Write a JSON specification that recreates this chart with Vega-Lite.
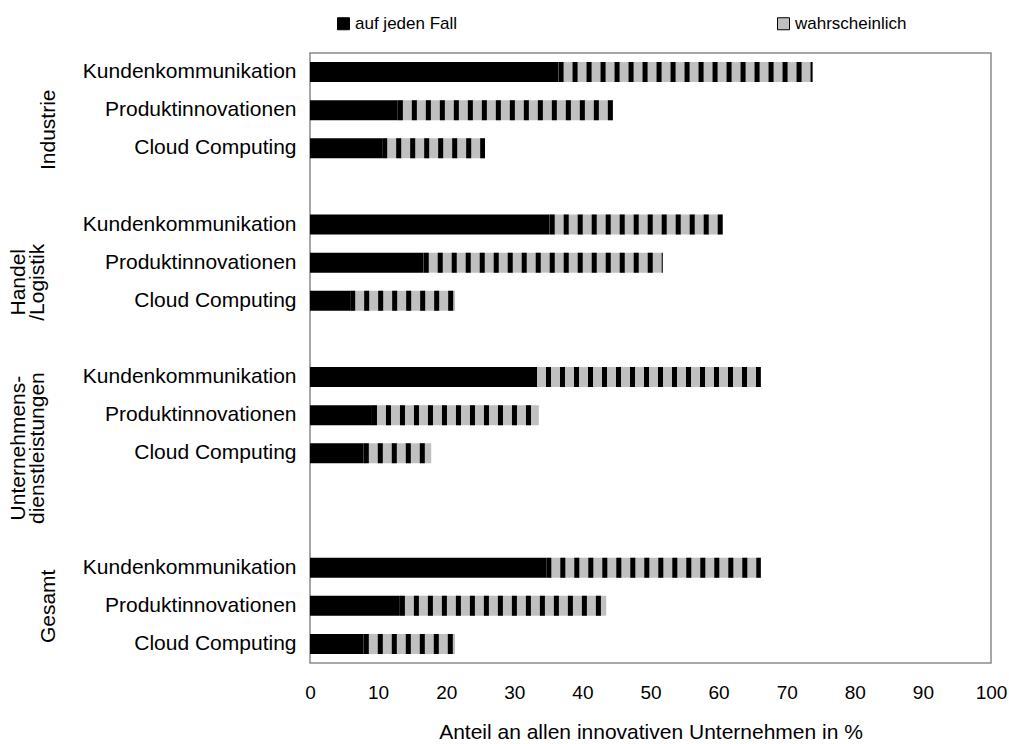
{
  "$schema": "https://vega.github.io/schema/vega-lite/v6.json",
  "width": 681,
  "height": 610,
  "autosize": {"type": "none"},
  "padding": {"left": 310, "top": 53, "right": 18, "bottom": 81},
  "background": "white",
  "config": {
    "font": "Liberation Sans",
    "view": {"stroke": "#8a8a8a", "strokeWidth": 1.5},
    "axis": {"grid": false, "labelColor": "#000000", "titleColor": "#000000", "labelFont": "Liberation Sans", "titleFont": "Liberation Sans", "titleFontWeight": "normal", "labelLimit": 0},
    "legend": {"labelFont": "Liberation Sans", "labelColor": "#000000", "labelLimit": 0}
  },
  "datasets": {
    "bars": [
      {"slot": 1, "group": "Industrie", "cat": "Kundenkommunikation", "sure": 36.5, "total": 73.8},
      {"slot": 2, "group": "Industrie", "cat": "Produktinnovationen", "sure": 12.9, "total": 44.5},
      {"slot": 3, "group": "Industrie", "cat": "Cloud Computing", "sure": 10.6, "total": 25.7},
      {"slot": 5, "group": "Handel /Logistik", "cat": "Kundenkommunikation", "sure": 35.2, "total": 60.6},
      {"slot": 6, "group": "Handel /Logistik", "cat": "Produktinnovationen", "sure": 16.7, "total": 51.8},
      {"slot": 7, "group": "Handel /Logistik", "cat": "Cloud Computing", "sure": 5.9, "total": 21.3},
      {"slot": 9, "group": "Unternehmensdienstleistungen", "cat": "Kundenkommunikation", "sure": 32.6, "total": 66.2},
      {"slot": 10, "group": "Unternehmensdienstleistungen", "cat": "Produktinnovationen", "sure": 9.1, "total": 33.6},
      {"slot": 11, "group": "Unternehmensdienstleistungen", "cat": "Cloud Computing", "sure": 7.9, "total": 17.8},
      {"slot": 14, "group": "Gesamt", "cat": "Kundenkommunikation", "sure": 34.7, "total": 66.2},
      {"slot": 15, "group": "Gesamt", "cat": "Produktinnovationen", "sure": 13.2, "total": 43.5},
      {"slot": 16, "group": "Gesamt", "cat": "Cloud Computing", "sure": 7.9, "total": 21.3}
    ],
    "groups": [
      {"group": "Industrie", "pos": 2.5},
      {"group": "Handel /Logistik", "pos": 6.5},
      {"group": "Unternehmensdienstleistungen", "pos": 10.85},
      {"group": "Gesamt", "pos": 15}
    ]
  },
  "layer": [
    {
      "data": {"name": "bars"},
      "layer": [
        {
          "mark": {"type": "bar"},
          "encoding": {
            "y": {
              "field": "slot", "type": "ordinal",
              "scale": {"domain": [1, 2, 3, 4, 5, 6, 7, 8, 9, 10, 11, 12, 13, 14, 15, 16], "paddingInner": 0.475, "paddingOuter": 0.2375},
              "axis": {
                "title": null, "ticks": false, "tickSize": 0, "domain": false, "labelPadding": 14, "labelFontSize": 21, "labelAngle": 0, "labelLimit": 0,
                "labelExpr": "indexof([1,5,9,14], datum.value) >= 0 ? 'Kundenkommunikation' : indexof([2,6,10,15], datum.value) >= 0 ? 'Produktinnovationen' : indexof([3,7,11,16], datum.value) >= 0 ? 'Cloud Computing' : ''"
              }
            },
            "x": {
              "field": "sure", "type": "quantitative",
              "scale": {"domain": [0, 100], "nice": false},
              "axis": {
                "title": "Anteil an allen innovativen Unternehmen in %", "values": [0, 10, 20, 30, 40, 50, 60, 70, 80, 90, 100],
                "ticks": false, "tickSize": 0, "domain": false, "labelPadding": 20, "labelFontSize": 19, "titleFontSize": 21, "titlePadding": 19,
                "labelFlush": false, "labelOverlap": false
              }
            },
            "color": {
              "datum": "auf jeden Fall",
              "scale": {"domain": ["auf jeden Fall", "wahrscheinlich"], "range": ["#000000", "#c0c0c0"]},
              "legend": {
                "title": null, "orient": "none", "legendX": 25, "legendY": -38, "direction": "horizontal", "columns": 2,
                "columnPadding": 317, "symbolType": "square", "symbolSize": 144, "labelFontSize": 17, "labelOffset": 3,
                "symbolStrokeColor": "#000000", "symbolStrokeWidth": 1
              }
            }
          }
        },
        {
          "mark": {"type": "bar"},
          "encoding": {
            "y": {"field": "slot", "type": "ordinal"},
            "x": {"field": "sure", "type": "quantitative"},
            "x2": {"field": "total"},
            "color": {"datum": "wahrscheinlich"}
          }
        },
        {
          "mark": {"type": "rule", "strokeWidth": 20, "strokeDash": [5, 9], "color": "#000000", "strokeCap": "butt"},
          "encoding": {
            "y": {"field": "slot", "type": "ordinal"},
            "x": {"field": "sure", "type": "quantitative"},
            "x2": {"field": "total"}
          }
        }
      ]
    },
    {
      "data": {"name": "groups"},
      "mark": {"type": "point", "opacity": 0},
      "encoding": {
        "y": {
          "field": "pos", "type": "quantitative",
          "scale": {"domain": [0.5, 16.5], "reverse": true, "nice": false, "zero": false},
          "axis": {
            "orient": "left", "title": null, "values": [2.5, 15], "ticks": false, "tickSize": 0, "domain": false, "grid": false,
            "labelAngle": 270, "labelAlign": "center", "labelBaseline": "middle", "labelPadding": 262, "labelFontSize": 21,
            "labelOverlap": false, "labelFlush": false,
            "labelExpr": "datum.value == 2.5 ? 'Industrie' : 'Gesamt'"
          }
        }
      }
    },
    {
      "data": {"name": "groups"},
      "mark": {"type": "point", "opacity": 0},
      "encoding": {
        "y": {
          "field": "pos", "type": "quantitative",
          "scale": {"domain": [0.5, 16.5], "reverse": true, "nice": false, "zero": false},
          "axis": {
            "orient": "left", "title": null, "values": [6.5, 10.85], "ticks": false, "tickSize": 0, "domain": false, "grid": false,
            "labelAngle": 270, "labelAlign": "center", "labelBaseline": "middle", "labelPadding": 292, "labelFontSize": 21, "labelLineHeight": 19,
            "labelOverlap": false, "labelFlush": false,
            "labelExpr": "datum.value == 6.5 ? ['Handel', '/Logistik'] : ['Unternehmens-', 'dienstleistungen']"
          }
        }
      }
    }
  ],
  "resolve": {"scale": {"y": "independent"}, "axis": {"y": "independent"}}
}
